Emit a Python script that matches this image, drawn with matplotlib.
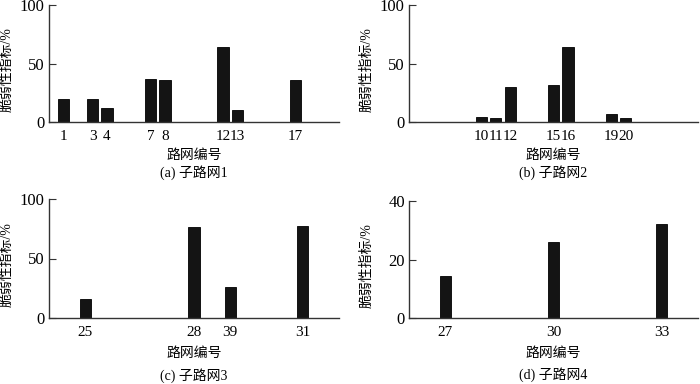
import matplotlib
matplotlib.use("Agg")
import matplotlib.pyplot as plt

plt.rcParams['font.family'] = ['Liberation Serif', 'Noto Sans CJK SC', 'DejaVu Sans']

# 子路网1
a_ids = [1, 3, 4, 7, 8, 12, 13, 17]
a_vals = [20, 20, 12.3, 37, 36, 64.3, 10.6, 36]
# 子路网2
b_ids = [10, 11, 12, 15, 16, 19, 20]
b_vals = [4.5, 3.4, 29.8, 31.5, 64.2, 6.5, 3.4]
# 子路网3 (label "39" as printed in the original)
c_pos = [25, 28, 29, 31]
c_labels = ['25', '28', '39', '31']
c_vals = [15.8, 76.6, 26.2, 77.2]
# 子路网4
d_ids = [27, 30, 33]
d_vals = [14.5, 26.1, 32.1]

ylab = '脆弱性指标/%'
xlab = '路网编号'

W, H = 700, 384
fig = plt.figure(figsize=(7, 3.84), dpi=100)


def px_axes(l, t, r, b):
    return fig.add_axes([l / W, 1 - b / H, (r - l) / W, (b - t) / H])


def style(ax, vals, xlim, ylim, yticks, pos, labels, width, caption, xl_y, cap_y):
    ax.bar(pos, vals, width=width, color='#141414',
           edgecolor='#000000', linewidth=0.6)
    ax.set_xlim(*xlim)
    ax.set_ylim(*ylim)
    ax.set_yticks(yticks)
    ax.set_xticks(pos)
    ax.set_xticklabels(labels)
    for s in ['top', 'right']:
        ax.spines[s].set_visible(False)
    for s in ['left', 'bottom']:
        ax.spines[s].set_color('#333333')
        ax.spines[s].set_linewidth(1.0)
    ax.tick_params(axis='x', length=0, pad=6, labelsize=11)
    ax.tick_params(axis='y', direction='in', length=5, pad=3, labelsize=12,
                   color='#333333')
    ax.text(-0.145, 0.45, ylab, transform=ax.transAxes, rotation=90,
            ha='center', va='center', fontsize=10)
    ax.text(0.5, xl_y, xlab, transform=ax.transAxes, ha='center',
            va='center', fontsize=10)
    ax.text(0.5, cap_y, caption, transform=ax.transAxes, ha='center',
            va='center', fontsize=10)


ax1 = px_axes(49, 5, 339, 122)
style(ax1, a_vals, (0, 20), (0, 100), [0, 50, 100], a_ids,
      [str(i) for i in a_ids], 0.78, '(a) 子路网1', -0.282, -0.436)

ax2 = px_axes(409, 5, 698, 122)
style(ax2, b_vals, (5, 25), (0, 100), [0, 50, 100], b_ids,
      [str(i) for i in b_ids], 0.78, '(b) 子路网2', -0.282, -0.436)

ax3 = px_axes(49, 199, 339, 318)
style(ax3, c_vals, (24, 32), (0, 100), [0, 50, 100], c_pos, c_labels,
      0.31, '(c) 子路网3', -0.30, -0.48)

ax4 = px_axes(409, 201, 698, 318)
style(ax4, d_vals, (26, 34), (0, 40), [0, 20, 40], d_ids,
      [str(i) for i in d_ids], 0.31, '(d) 子路网4', -0.30, -0.48)

fig.savefig('out.png', dpi=100, facecolor='white')
